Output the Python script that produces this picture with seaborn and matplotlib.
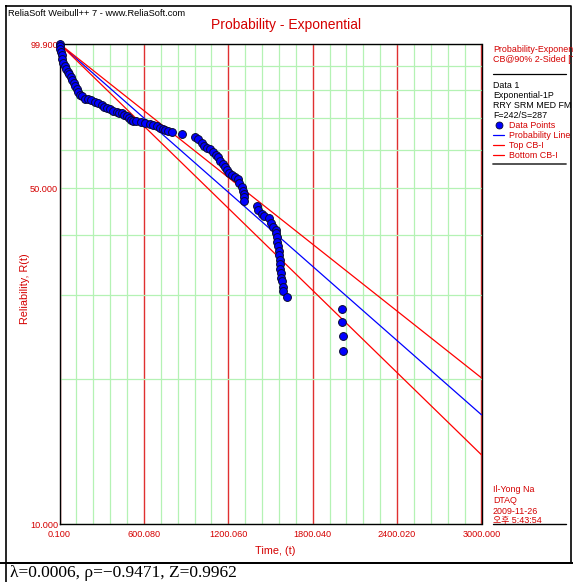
import numpy as np
import pandas as pd
import matplotlib
matplotlib.use("Agg")
import matplotlib.pyplot as plt
import seaborn as sns
from matplotlib.ticker import FixedLocator, FixedFormatter, NullFormatter

# Failure times and their median-rank reliability (%) for Data 1
time_t = [0.1, 3.7, 7.2, 10.8, 15.7, 21.4, 27.1, 35.7, 46.3, 57.0,
          67.7, 78.3, 89.0, 99.7, 110.3, 121.0, 131.7, 145.9, 160.1, 181.4,
          202.8, 224.1, 252.5, 273.9, 300.2, 316.6, 337.9, 359.2, 380.6, 406.9,
          423.3, 442.5, 458.8, 476.6, 494.4, 508.6, 520.7, 544.2, 577.6, 608.2,
          643.8, 665.1, 691.4, 714.8, 736.1, 750.3, 771.6, 797.9, 869.0, 963.7,
          987.2, 1011.4, 1027.7, 1049.0, 1066.9, 1089.6, 1113.0, 1129.4, 1141.5, 1160.7,
          1177.0, 1189.1, 1205.5, 1226.8, 1248.1, 1271.6, 1278.7, 1295.8, 1307.2, 1312.2,
          1314.3, 1314.3, 1406.8, 1413.9, 1438.0, 1454.4, 1492.1, 1502.0, 1518.4, 1536.2,
          1541.9, 1544.7, 1549.0, 1554.0, 1561.1, 1563.2, 1566.0, 1568.2, 1570.3, 1573.1,
          1577.4, 1582.4, 1589.5, 1591.6, 1617.9, 2007.0, 2007.0, 2018.4, 2018.4]
reliability_pct = [99.9, 98.95, 97.5, 96.1, 94.8, 92.97, 91.1, 89.9, 88.6, 87.3,
                   86.5, 85.3, 84.1, 82.9, 81.7, 80.5, 79.4, 78.2, 77.7, 76.9,
                   76.6, 76.2, 75.75, 75.3, 74.6, 74.0, 73.4, 73.1, 72.6, 72.2,
                   71.9, 71.7, 71.1, 70.7, 70.1, 69.4, 69.2, 69.1, 68.8, 68.5,
                   68.1, 67.75, 67.4, 66.9, 66.5, 66.1, 65.8, 65.6, 64.8, 64.05,
                   63.3, 62.2, 61.3, 60.8, 60.5, 59.6, 58.7, 58.0, 57.1, 56.2,
                   55.4, 54.6, 53.8, 53.2, 52.9, 52.2, 51.4, 50.4, 49.4, 48.7,
                   47.9, 47.06, 46.05, 45.0, 44.15, 43.8, 43.3, 42.4, 41.6, 40.9,
                   40.3, 39.6, 38.75, 37.9, 37.0, 36.3, 35.5, 34.8, 34.0, 33.3,
                   32.6, 32.0, 31.2, 30.6, 29.7, 28.0, 26.4, 24.6, 22.9]

# Fitted exponential failure rate and its 90% two-sided bounds
lam = 0.000593
lam_top = 0.000534
lam_bottom = 0.000657
rho = -0.9471
z_stat = 0.9962
n_fail, n_susp = 242, 287

# Axis ticks
x_major = [0.1, 600.08, 1200.06, 1800.04, 2400.02, 3000.0]
y_major = [10.0, 50.0, 99.9]
y_minor = [20, 30, 40, 60, 70, 80, 90]

RED = "#d40000"
GRID_RED = "#e03030"
GREEN = "#b4f2b4"
BLUE = "#0000ff"

sns.set_style("white")
plt.rcParams["font.family"] = ["Liberation Sans", "DejaVu Sans", "Noto Sans CJK KR"]

W, H = 573, 582
fig = plt.figure(figsize=(W / 100, H / 100), dpi=100)
fig.patch.set_facecolor("white")

# pixel-space overlay for frame, header and notes
deco = fig.add_axes([0, 0, 1, 1], zorder=0)
deco.set_xlim(0, W)
deco.set_ylim(H, 0)
deco.set_axis_off()

ax = fig.add_axes([59.5 / W, (H - 524) / H, 422 / W, 480 / H], zorder=2)
ax.set_facecolor("white")

points = pd.DataFrame({"t": time_t, "R": reliability_pct})
t_grid = np.linspace(x_major[0], x_major[-1], 400)
curves = pd.DataFrame({
    "t": np.tile(t_grid, 3),
    "R": np.concatenate([100 * np.exp(-lam * t_grid),
                         100 * np.exp(-lam_top * t_grid),
                         100 * np.exp(-lam_bottom * t_grid)]),
    "curve": np.repeat(["Probability Line", "Top CB-I", "Bottom CB-I"], len(t_grid)),
})

sns.lineplot(data=curves, x="t", y="R", hue="curve",
             palette={"Probability Line": BLUE, "Top CB-I": "#ff0000", "Bottom CB-I": "#ff0000"},
             lw=0.9, ax=ax, legend=False, zorder=3, sort=False, estimator=None)
sns.scatterplot(data=points, x="t", y="R", color=BLUE, s=32, edgecolor="#0a0a30",
                linewidth=0.7, ax=ax, zorder=4, legend=False, clip_on=False)

ax.set_yscale("log")
ax.set_xlim(x_major[0], x_major[-1])
ax.set_ylim(y_major[0], y_major[-1])

ax.xaxis.set_major_locator(FixedLocator(x_major))
ax.xaxis.set_major_formatter(FixedFormatter([f"{v:.3f}" for v in x_major]))
ax.xaxis.set_minor_locator(FixedLocator(np.linspace(x_major[0], x_major[-1], 26)))
ax.yaxis.set_major_locator(FixedLocator(y_major))
ax.yaxis.set_major_formatter(FixedFormatter([f"{v:.3f}" for v in y_major]))
ax.yaxis.set_minor_locator(FixedLocator(y_minor))
ax.yaxis.set_minor_formatter(NullFormatter())

ax.grid(which="minor", axis="x", color=GREEN, lw=0.9)
ax.grid(which="major", axis="x", color=GRID_RED, lw=1.0)
ax.grid(which="both", axis="y", color=GREEN, lw=0.9)
ax.set_axisbelow(True)

ax.tick_params(which="both", length=0, labelsize=6.6, labelcolor=RED)
ax.tick_params(axis="x", pad=4)
ax.tick_params(axis="y", pad=1)
for s in ax.spines.values():
    s.set_color("black")
    s.set_linewidth(1.0)
    s.set_visible(True)

ax.set_xlabel("Time, (t)", color=RED, fontsize=7.8)
ax.xaxis.set_label_coords(0.51, -0.045)
ax.set_ylabel("Reliability, R(t)", color=RED, fontsize=7.8)
ax.yaxis.set_label_coords(-0.07, 0.49)

# frame and header
deco.plot([6, 571, 571, 6, 6], [6, 6, 563, 563, 6], color="black", lw=1.2)
deco.plot([0, W], [563, 563], color="black", lw=1.4)
deco.plot([6, 6], [563, H], color="black", lw=1.2)
deco.text(8, 13, "ReliaSoft Weibull++ 7 - www.ReliaSoft.com", fontsize=6.7,
          color="black", va="center", ha="left")
deco.text(286, 25, "Probability - Exponential", fontsize=10, color=RED,
          va="center", ha="center")

# side panel (long titles run into the right border, as in the report layout)
tx = 493
deco.text(tx, 50, "Probability-Exponential", fontsize=6.4, color=RED, va="center", clip_on=True)
deco.text(tx, 59.5, "CB@90% 2-Sided [T]", fontsize=6.4, color=RED, va="center", clip_on=True)
deco.plot([tx, 566], [74, 74], color="black", lw=0.9)
for yy, s in zip([85, 95.5, 106, 115.5],
                 ["Data 1", "Exponential-1P", "RRY SRM MED FM", f"F={n_fail}/S={n_susp}"]):
    deco.text(tx, yy, s, fontsize=6.4, color="black", va="center")
deco.plot([tx, 566], [164, 164], color="#444444", lw=1.3)

handles = [
    plt.Line2D([], [], ls="none", marker="o", markersize=5, markerfacecolor=BLUE,
               markeredgecolor="#0a0a30", markeredgewidth=0.6),
    plt.Line2D([], [], color=BLUE, lw=0.9),
    plt.Line2D([], [], color="#ff0000", lw=0.9),
    plt.Line2D([], [], color="#ff0000", lw=0.9),
]
fig.legend(handles, ["Data Points", "Probability Line", "Top CB-I", "Bottom CB-I"],
           loc="upper left", bbox_to_anchor=(493 / W, 1 - 121.5 / H),
           frameon=False, fontsize=6.4, labelcolor=RED, handlelength=1.25,
           handletextpad=0.6, labelspacing=0.1, borderpad=0, borderaxespad=0)

for yy, s in zip([490, 500.5, 511, 520.5],
                 ["Il-Yong Na", "DTAQ", "2009-11-26", "오후 5:43:54"]):
    deco.text(tx, yy, s, fontsize=6.4, color=RED, va="center")
deco.plot([tx, 566], [524, 524], color="black", lw=1.0)

deco.text(10, 573, f"λ={lam:.4f}, ρ={rho:.4f}".replace("-", "\u2212") + f", Z={z_stat:.4f}",
          fontsize=12.5, color="black", va="center", ha="left",
          family=["Liberation Serif", "DejaVu Serif"])

fig.savefig("out.png", dpi=100, facecolor="white")
